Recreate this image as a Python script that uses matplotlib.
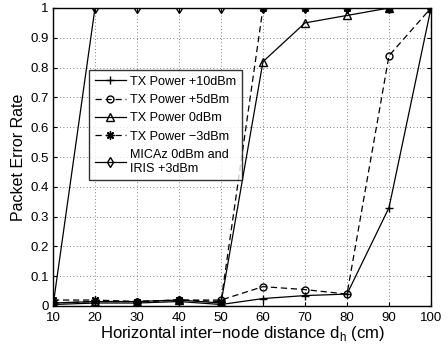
import matplotlib
matplotlib.use("Agg")
import matplotlib.pyplot as plt

plt.rcParams['font.family'] = ['Liberation Sans', 'DejaVu Sans']

distance = [10, 20, 30, 40, 50, 60, 70, 80, 90, 100]
per_10dbm = [0.005, 0.01, 0.01, 0.015, 0.005, 0.025, 0.035, 0.04, 0.33, 1.0]
per_5dbm = [0.01, 0.015, 0.015, 0.02, 0.02, 0.065, 0.055, 0.04, 0.84, 1.0]
per_0dbm = [0.01, 0.015, 0.015, 0.02, 0.01, 0.82, 0.95, 0.975, 1.0, 1.0]
per_m3dbm = [0.02, 0.02, 0.015, 0.02, 0.015, 1.0, 1.0, 1.0, 1.0, 1.0]
per_micaz = [0.0, 1.0, 1.0, 1.0, 1.0, 1.0, 1.0, 1.0, 1.0, 1.0]

labels = ['TX Power +10dBm', 'TX Power +5dBm', 'TX Power 0dBm',
          'TX Power \u22123dBm', 'MICAz 0dBm and\nIRIS +3dBm']
yticks = [0, 0.1, 0.2, 0.3, 0.4, 0.5, 0.6, 0.7, 0.8, 0.9, 1]
ytick_labels = ['0', '0.1', '0.2', '0.3', '0.4', '0.5', '0.6', '0.7', '0.8', '0.9', '1']

fig = plt.figure(figsize=(4.48, 3.49), dpi=100)
ax = fig.add_axes([53 / 448, 1 - 306 / 349, (431 - 53) / 448, (306 - 8) / 349])

lw = 0.9
dash = (0, (5, 3))
ax.plot(distance, per_10dbm, linestyle='-', color='k', lw=lw, marker='+', ms=6, mfc='none', label=labels[0])
ax.plot(distance, per_5dbm, linestyle=dash, color='k', lw=lw, marker='o', ms=5, mfc='none', label=labels[1])
ax.plot(distance, per_0dbm, linestyle='-', color='k', lw=lw, marker='^', ms=5.5, mfc='none', label=labels[2])
ax.plot(distance, per_m3dbm, linestyle=dash, color='k', lw=lw, marker=(8, 2, 0), ms=6, label=labels[3])
ax.plot(distance, per_micaz, linestyle='-', color='k', lw=lw, marker='d', ms=5.5, mfc='none', label=labels[4])

ax.set_xlim(10, 100)
ax.set_ylim(0, 1)
ax.set_xticks(distance)
ax.set_yticks(yticks)
ax.set_yticklabels(ytick_labels)
ax.tick_params(direction='in', length=3, labelsize=9.5, top=True, right=True)
ax.tick_params(axis='x', pad=4.5)
ax.tick_params(axis='y', pad=3)
ax.grid(True, linestyle=(0, (1, 3)), color='#555555', lw=0.6)
for s in ax.spines.values():
    s.set_linewidth(1.0)

ax.set_xlabel('Horizontal inter\u2212node distance d$_\\mathregular{h}$ (cm)', fontsize=12, labelpad=0)
ax.set_ylabel('Packet Error Rate', fontsize=11.5, labelpad=3)

leg = ax.legend(loc='upper left', bbox_to_anchor=(0.095, 0.792), borderaxespad=0,
                fontsize=9.1, frameon=True, fancybox=False, edgecolor='k', handlelength=2.5,
                borderpad=0.45, labelspacing=0.5, handletextpad=0.3)
leg.get_frame().set_linewidth(1.0)

fig.savefig('out.png', dpi=100)
